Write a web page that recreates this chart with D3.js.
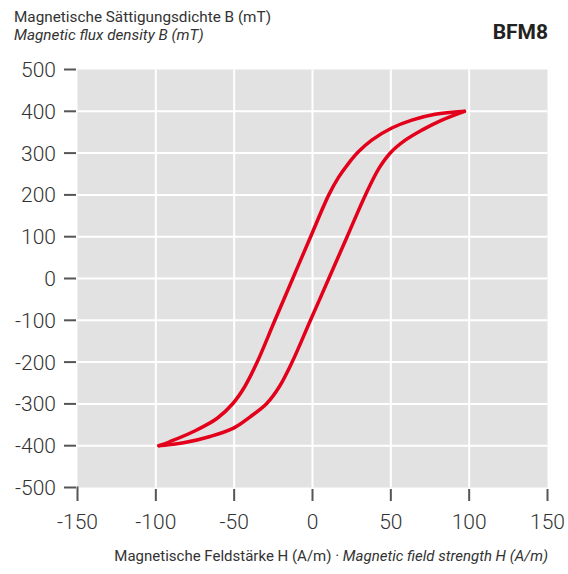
<!DOCTYPE html>
<html><head><meta charset="utf-8">
<script src="https://cdn.jsdelivr.net/npm/d3@7"></script>
<style>body{margin:0;background:#fff}text{font-family:Roboto,"Liberation Sans",sans-serif}</style>
</head><body>
<svg id="c" width="568" height="574"></svg>
<script>
const xTicks = [-150,-100,-50,0,50,100,150];
const yTicks = [500,400,300,200,100,0,-100,-200,-300,-400,-500];
// Upper (left) branch of the hysteresis loop: H (A/m), B (mT)
const upperH = [-98,-90.8,-75.9,-61,-50.8,-43.3,-35.3,-24,-12.6,-1.2,10.4,16.8,22.9,29.3,37.8,50.6,63.4,78.3,97];
const upperB = [-400,-390,-366,-335,-299,-259,-200,-100,0,100,200,243,275,303,331,360,379,393,400];
// Lower (right) branch
const lowerH = [-98,-82.3,-65.3,-50.4,-39.8,-29.2,-21.2,-13,-1.3,10.4,22.1,33.8,42.5,49.8,59.2,69.8,82.6,97];
const lowerB = [-400,-393,-378,-358,-331,-299,-259,-200,-100,0,100,200,264,301,331,355,379,400];

const svg = d3.select("#c");
const x = d3.scaleLinear().domain([-150,150]).range([77.5,547.5]);
const y = d3.scaleLinear().domain([-500,500]).range([487.5,69.5]);

svg.append("rect").attr("x",x(-150)).attr("y",y(500)).attr("width",x(150)-x(-150)).attr("height",y(-500)-y(500)).attr("fill","#e2e2e2");
// grid
svg.append("g").selectAll("line").data(xTicks.slice(1,-1)).join("line")
  .attr("x1",d=>x(d)).attr("x2",d=>x(d)).attr("y1",y(500)).attr("y2",y(-500))
  .attr("stroke","#fff").attr("stroke-width",2);
svg.append("g").selectAll("line").data(yTicks.slice(1,-1)).join("line")
  .attr("x1",x(-150)).attr("x2",x(150)).attr("y1",d=>y(d)).attr("y2",d=>y(d))
  .attr("stroke","#fff").attr("stroke-width",2);

// y axis ticks + labels
const ya = svg.append("g");
ya.selectAll("line").data(yTicks).join("line")
  .attr("x1",64).attr("x2",76).attr("y1",d=>y(d)).attr("y2",d=>y(d))
  .attr("stroke","#555").attr("stroke-width",2);
ya.selectAll("text").data(yTicks).join("text")
  .attr("x",56).attr("y",d=>y(d)).attr("dy","0.36em").attr("text-anchor","end")
  .attr("font-size",21).attr("font-weight",300).attr("fill","#333").text(d=>d);
// x axis ticks + labels
const xa = svg.append("g");
xa.selectAll("line").data(xTicks).join("line")
  .attr("x1",d=>x(d)).attr("x2",d=>x(d)).attr("y1",d=>d===-150?y(-500)-1:489).attr("y2",501)
  .attr("stroke","#555").attr("stroke-width",2);
xa.selectAll("text").data(xTicks).join("text")
  .attr("x",d=>x(d)).attr("y",529).attr("text-anchor","middle")
  .attr("font-size",21).attr("font-weight",300).attr("fill","#333").text(d=>d);

// curves
const line = d3.line().x(d=>x(d[0])).y(d=>y(d[1])).curve(d3.curveCatmullRom.alpha(0.5));
const up = upperH.map((h,i)=>[h,upperB[i]]);
const lo = lowerH.map((h,i)=>[h,lowerB[i]]);
[up,lo].forEach(p=>svg.append("path").attr("d",line(p)).attr("fill","none")
  .attr("stroke","#e2001a").attr("stroke-width",3.5).attr("stroke-linecap","round"));

// titles
svg.append("text").attr("x",14).attr("y",22).attr("font-size",15.3).attr("fill","#333")
  .text("Magnetische Sättigungsdichte B (mT)");
svg.append("text").attr("x",14).attr("y",40).attr("font-size",15.3).attr("font-style","italic").attr("fill","#333")
  .text("Magnetic flux density B (mT)");
svg.append("text").attr("x",548).attr("y",39).attr("text-anchor","end").attr("font-size",21).attr("font-weight","bold").attr("fill","#222")
  .text("BFM8");
const xt = svg.append("text").attr("x",548).attr("y",561).attr("text-anchor","end").attr("font-size",15).attr("fill","#333");
xt.append("tspan").text("Magnetische Feldstärke H (A/m) · ");
xt.append("tspan").attr("font-style","italic").text("Magnetic field strength H (A/m)");
</script>
</body></html>
